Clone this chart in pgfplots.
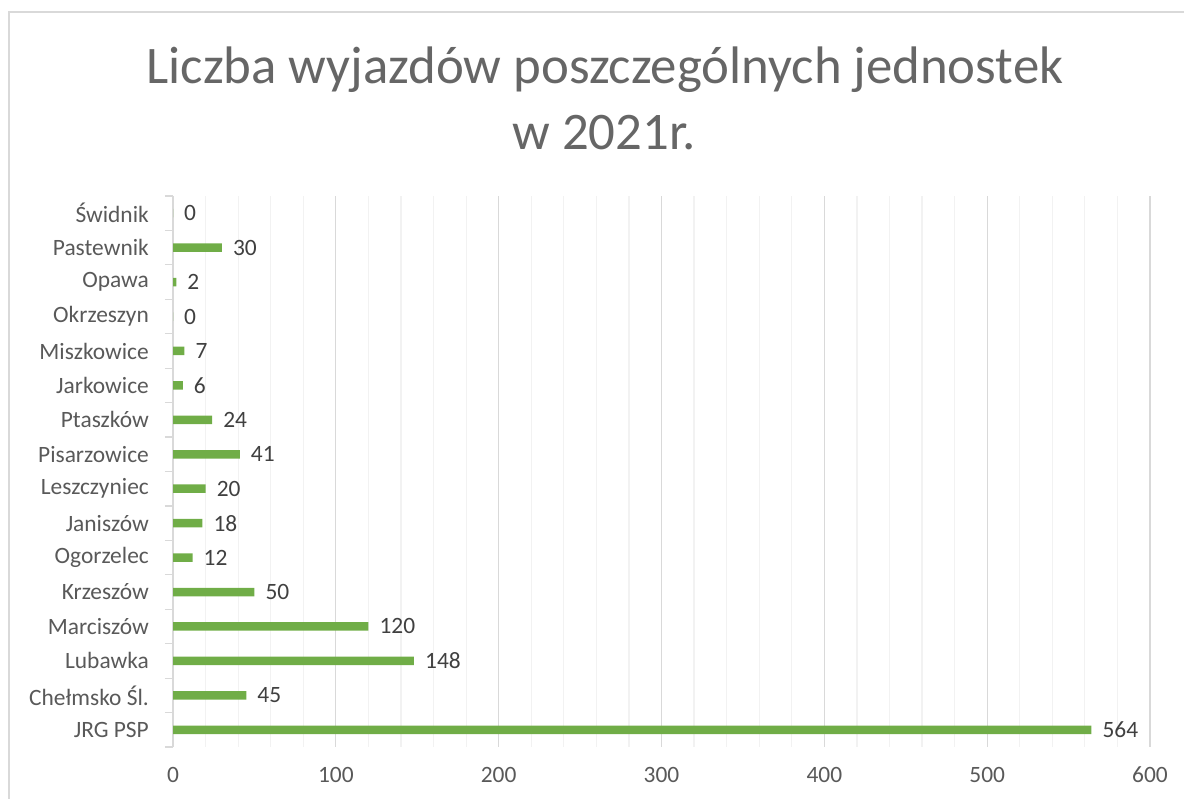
\documentclass[border=0pt]{standalone}
\usepackage{pgfplots}
\pgfplotsset{compat=1.18}
\usepackage{fontspec}
\setmainfont{Carlito}
\definecolor{barg}{HTML}{70AD47}
\definecolor{txt}{HTML}{595959}
\definecolor{ttl}{HTML}{666666}
\definecolor{lbl}{HTML}{404040}
\definecolor{gmaj}{HTML}{D9D9D9}
\definecolor{gmin}{HTML}{F2F2F2}
\begin{document}
\begin{tikzpicture}[x=1bp,y=1bp]
\useasboundingbox (0,0) rectangle (1184,799);
\draw[gmaj, line width=1.5bp] (9,0) -- (9,787) -- (1184,787);
\node[anchor=base, text=ttl, font=\fontsize{53}{60}\selectfont, inner sep=0] at (605,715) {Liczba wyjazdów poszczególnych jednostek};
\node[anchor=base, text=ttl, font=\fontsize{53}{60}\selectfont, inner sep=0] at (604,649) {w 2021r.};
\begin{axis}[
  at={(173bp,52bp)}, anchor=south west,
  scale only axis,
  width=977bp, height=551bp,
  xmin=0, xmax=600,
  ymin=-0.5, ymax=15.5,
  axis line style={draw=none},
  xtick={0,100,...,600},
  minor x tick num=4,
  xmajorgrids, xminorgrids,
  major x grid style={gmaj, line width=1.2bp},
  minor x grid style={gmin, line width=1.2bp},
  x tick style={draw=none},
  ytick pos=left,
  ytick={0,...,15},
  yticklabels={JRG PSP,Chełmsko Śl.,Lubawka,Marciszów,Krzeszów,Ogorzelec,Janiszów,Leszczyniec,Pisarzowice,Ptaszków,Jarkowice,Miszkowice,Okrzeszyn,Opawa,Pastewnik,Świdnik},
  minor ytick={-0.5,0.5,...,15.5},
  major tick length=0pt,
  minor tick length=8bp,
  tick align=outside,
  minor y tick style={gmaj, line width=1.2bp},
  /pgf/number format/assume math mode=true,
  ticklabel style={text=txt, font=\fontsize{23.5}{28}\selectfont},
  yticklabel style={anchor=east, inner sep=0pt, xshift=-24bp},
  xticklabel style={anchor=center, inner sep=0pt, yshift=-28bp},
  xbar, bar width=8.5bp,
  nodes near coords,
  nodes near coords style={anchor=west, inner sep=0pt, xshift=11bp, text=lbl, font=\fontsize{23.5}{28}\selectfont},
  clip=false,
]
\addplot[fill=barg, draw=none] coordinates {
(564,0) (45,1) (148,2) (120,3) (50,4) (12,5) (18,6) (20,7) (41,8) (24,9) (6,10) (7,11) (0,12) (2,13) (30,14) (0,15)
};
\end{axis}
\end{tikzpicture}
\end{document}
